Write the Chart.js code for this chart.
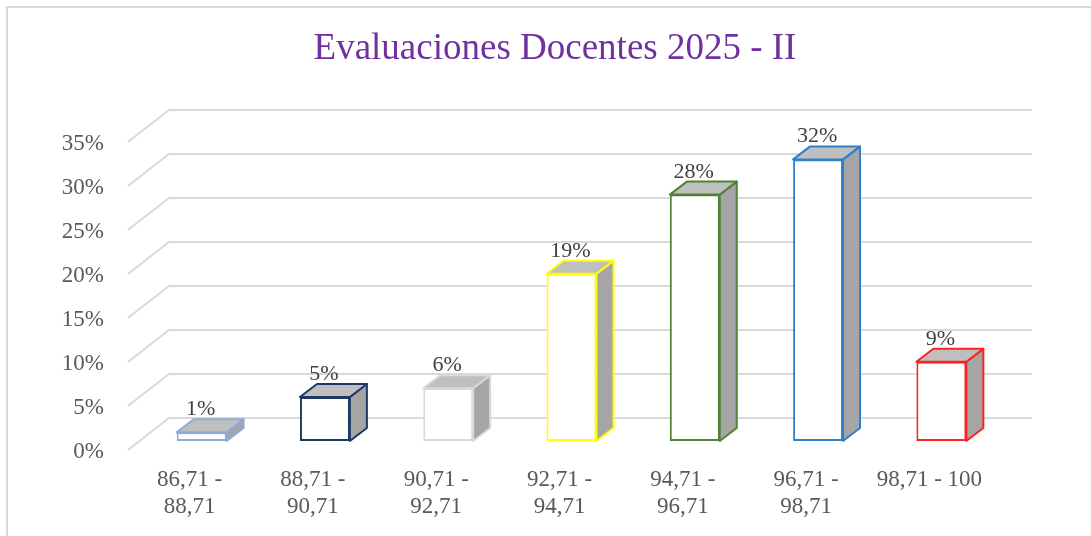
<!DOCTYPE html>
<html><head><meta charset="utf-8">
<script src="https://cdn.jsdelivr.net/npm/chart.js@4.4.1/dist/chart.umd.min.js"></script>
<style>html,body{margin:0;padding:0;background:#fff;} canvas{display:block;}</style>
</head><body>
<canvas id="c" width="1091" height="536"></canvas>
<script>
const titleText = 'Evaluaciones Docentes 2025 - II';
const categories = [['86,71 -','88,71'],['88,71 -','90,71'],['90,71 -','92,71'],['92,71 -','94,71'],['94,71 -','96,71'],['96,71 -','98,71'],'98,71 - 100'];
const percentages = [1, 5, 6, 19, 28, 32, 9];
const yTicks = [0, 5, 10, 15, 20, 25, 30, 35];
const barColors = ['#8FAADC','#203864','#D9D9D9','#FFFF00','#548235','#2F80CC','#FF2020'];

const FONT = '"Liberation Serif", "Times New Roman", serif';
const DX = 17, DY = -13;          // bar depth
const SHIFT_X = 12, SHIFT_Y = -9; // bar position inside floor depth
const BACK_X = 41, BACK_Y = -32;  // back wall offset
const BACK_RIGHT = 1032;

const deco = {
  id: 'deco',
  beforeDraw(chart) {
    const ctx = chart.ctx;
    ctx.save();
    ctx.fillStyle = '#fff';
    ctx.fillRect(0, 0, chart.width, chart.height);
    ctx.strokeStyle = '#D9D9D9';
    ctx.lineWidth = 2;
    ctx.beginPath();
    ctx.moveTo(7, chart.height);
    ctx.lineTo(7, 7);
    ctx.lineTo(chart.width, 7);
    ctx.stroke();
    ctx.restore();
  },
  beforeDatasetsDraw(chart) {
    const {ctx, chartArea, scales: {y}} = chart;
    ctx.save();
    ctx.strokeStyle = '#D9D9D9';
    ctx.lineWidth = 2;
    yTicks.forEach(v => {
      const py = y.getPixelForValue(v);
      ctx.beginPath();
      ctx.moveTo(chartArea.left, py);
      ctx.lineTo(chartArea.left + BACK_X, py + BACK_Y);
      ctx.lineTo(BACK_RIGHT, py + BACK_Y);
      ctx.stroke();
    });
    ctx.restore();

    ctx.save();
    ctx.translate(SHIFT_X, SHIFT_Y);
    const meta = chart.getDatasetMeta(0);
    meta.data.forEach((bar, i) => {
      const {x, y: top, base, width} = bar.getProps(['x', 'y', 'base', 'width'], true);
      const l = x - width / 2, r = x + width / 2;
      ctx.lineWidth = 2;
      ctx.lineJoin = 'round';
      ctx.strokeStyle = barColors[i];
      ctx.fillStyle = '#A5A5A5';
      ctx.beginPath();
      ctx.moveTo(r, top); ctx.lineTo(r + DX, top + DY); ctx.lineTo(r + DX, base + DY); ctx.lineTo(r, base);
      ctx.closePath(); ctx.fill(); ctx.stroke();
      ctx.fillStyle = '#BFBFBF';
      ctx.beginPath();
      ctx.moveTo(l, top); ctx.lineTo(l + DX, top + DY); ctx.lineTo(r + DX, top + DY); ctx.lineTo(r, top);
      ctx.closePath(); ctx.fill(); ctx.stroke();
    });
  },
  afterDatasetsDraw(chart) {
    const ctx = chart.ctx;
    ctx.restore();
    ctx.save();
    ctx.font = '22px ' + FONT;
    ctx.fillStyle = '#404040';
    ctx.textAlign = 'center';
    ctx.textBaseline = 'alphabetic';
    const meta = chart.getDatasetMeta(0);
    meta.data.forEach((bar, i) => {
      const {x, y} = bar.getProps(['x', 'y'], true);
      ctx.fillText(percentages[i] + '%', x + SHIFT_X - 1, y + SHIFT_Y - 17);
    });
    ctx.restore();
  }
};

new Chart(document.getElementById('c'), {
  type: 'bar',
  data: {
    labels: categories,
    datasets: [{
      data: percentages,
      backgroundColor: '#FFFFFF',
      borderColor: barColors,
      borderWidth: 2,
      borderSkipped: false,
      barPercentage: 0.405,
      categoryPercentage: 1,
      clip: false
    }]
  },
  options: {
    responsive: false,
    animation: false,
    layout: {padding: {left: 60, right: 41, top: 0, bottom: 0}},
    plugins: {
      legend: {display: false},
      tooltip: {enabled: false},
      title: {
        display: true, text: titleText, color: '#7030A0',
        font: {family: FONT, size: 37, weight: 'normal', lineHeight: 1.2},
        padding: {top: 27, bottom: 70.6}
      }
    },
    scales: {
      x: {
        grid: {display: false, drawTicks: false},
        border: {display: false},
        ticks: {color: '#595959', font: {family: FONT, size: 23, lineHeight: 1.2}, padding: 16, maxRotation: 0, autoSkip: false},
        afterFit(s) { s.height = 86; }
      },
      y: {
        min: 0, max: 35,
        grid: {display: false, drawTicks: false},
        border: {display: false},
        ticks: {stepSize: 5, color: '#595959', font: {family: FONT, size: 23}, padding: 24, labelOffset: 2, callback: v => v + '%'},
        afterFit(s) { s.width = 68; }
      },
      yRight: {
        position: 'right',
        min: 0, max: 35,
        grid: {display: false, drawTicks: false},
        border: {display: false},
        ticks: {display: false},
        afterFit(s) { s.width = 59; }
      }
    }
  },
  plugins: [deco]
});
</script>
</body></html>
